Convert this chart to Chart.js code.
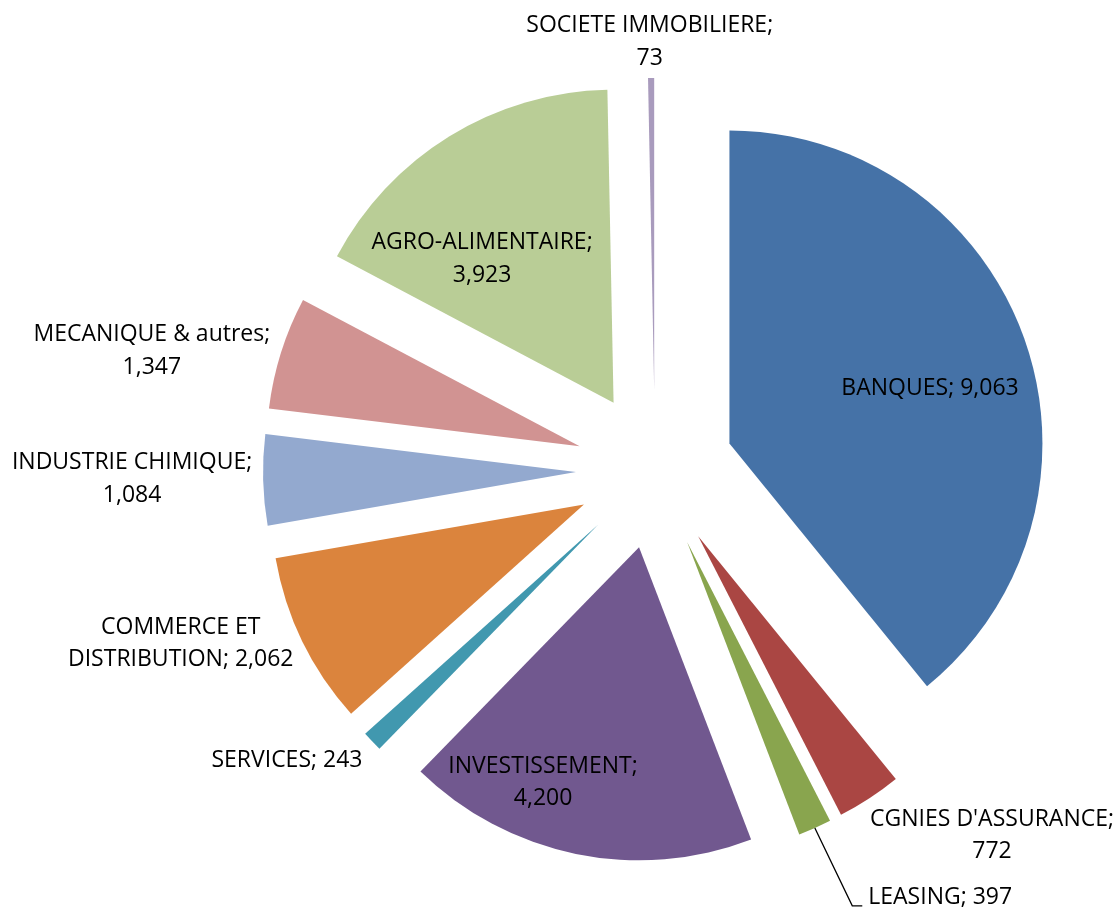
<!DOCTYPE html>
<html>
<head>
<meta charset="utf-8">
<title>Pie</title>
<script src="https://cdn.jsdelivr.net/npm/chart.js@4.4.0/dist/chart.umd.min.js"></script>
<style>
  html, body { margin: 0; padding: 0; background: #fff; }
  #wrap { width: 1119px; height: 913px; position: relative; }
</style>
</head>
<body>
<div id="wrap"><canvas id="myChart"></canvas></div>
<script>
const categories = ['BANQUES', "CGNIES D'ASSURANCE", 'LEASING', 'INVESTISSEMENT', 'SERVICES',
    'COMMERCE ET DISTRIBUTION', 'INDUSTRIE CHIMIQUE', 'MECANIQUE & autres', 'AGRO-ALIMENTAIRE', 'SOCIETE IMMOBILIERE'];
const values = [9063, 772, 397, 4200, 243, 2062, 1084, 1347, 3923, 73];
const colors = ['#4572A7', '#AA4643', '#89A54E', '#71588F', '#4198AF',
    '#DB843D', '#93A9CF', '#D19392', '#B9CD96', '#A99BBD'];

// label placement: angle (deg, clockwise from top) and distance from pie centre
const labelLayout = [
    {angle: 73.4, dist: 287, width: 300},
    {angle: 137.3, dist: 497, width: 260},
    {angle: 153.5, dist: 478, width: 300, align: 'left', leader: true},
    {angle: 199.7, dist: 332, width: 220},
    {angle: 231.7, dist: 469, width: 300},
    {angle: 249.9, dist: 505, width: 240},
    {angle: 269.0, dist: 523, width: 260},
    {angle: 283.3, dist: 517, width: 260},
    {angle: 320.7, dist: 273, width: 240},
    {angle: 359.3, dist: 428, width: 270}
];

const EXPLODE = 79;
const FONT = '23px "Open Sans"';
const LINE_H = 32.5;

function wrapText(ctx, text, maxW) {
    const words = text.split(' ');
    const lines = [];
    let cur = '';
    words.forEach(w => {
        const test = cur ? cur + ' ' + w : w;
        if (cur && ctx.measureText(test).width > maxW) {
            lines.push(cur);
            cur = w;
        } else {
            cur = test;
        }
    });
    if (cur) lines.push(cur);
    return lines;
}

const explodedPie = {
    id: 'explodedPie',
    beforeDatasetDraw(chart, args) {
        const ctx = chart.ctx;
        args.meta.data.forEach(arc => {
            const p = arc.getProps(['x', 'y', 'startAngle', 'endAngle', 'outerRadius'], true);
            const mid = (p.startAngle + p.endAngle) / 2;
            const cx = p.x + Math.cos(mid) * EXPLODE;
            const cy = p.y + Math.sin(mid) * EXPLODE;
            ctx.save();
            ctx.beginPath();
            ctx.moveTo(cx, cy);
            ctx.arc(cx, cy, p.outerRadius, p.startAngle, p.endAngle);
            ctx.closePath();
            ctx.fillStyle = arc.options.backgroundColor;
            ctx.fill();
            ctx.restore();
        });
        return false;
    },
    afterDatasetsDraw(chart) {
        const ctx = chart.ctx;
        const meta = chart.getDatasetMeta(0);
        ctx.save();
        ctx.font = FONT;
        ctx.fillStyle = '#000';
        ctx.textBaseline = 'middle';
        meta.data.forEach((arc, i) => {
            const p = arc.getProps(['x', 'y', 'startAngle', 'endAngle', 'outerRadius'], true);
            const lay = labelLayout[i];
            const a = lay.angle * Math.PI / 180;
            const px = p.x + Math.sin(a) * lay.dist;
            const py = p.y - Math.cos(a) * lay.dist;
            const text = chart.data.labels[i] + '; ' + values[i].toLocaleString('en-US');
            const lines = wrapText(ctx, text, lay.width);
            ctx.textAlign = lay.align || 'center';
            const y0 = py - (lines.length - 1) * LINE_H / 2;
            lines.forEach((ln, k) => ctx.fillText(ln, px, y0 + k * LINE_H));

            if (lay.leader) {
                const mid = (p.startAngle + p.endAngle) / 2;
                const r = EXPLODE + p.outerRadius;
                ctx.beginPath();
                ctx.moveTo(p.x + Math.cos(mid) * r, p.y + Math.sin(mid) * r);
                ctx.lineTo(px - 16, py + 8);
                ctx.lineTo(px - 6, py + 8);
                ctx.strokeStyle = '#000';
                ctx.lineWidth = 1.3;
                ctx.stroke();
            }
        });
        ctx.restore();
    }
};

const cht = document.getElementById('myChart').getContext('2d');

const myChart = new Chart(cht, {
    type: 'pie',
    data: {
        labels: categories,
        datasets: [{
            data: values,
            backgroundColor: colors,
            borderWidth: 0
        }]
    },
    options: {
        responsive: true,
        maintainAspectRatio: false,
        animation: false,
        radius: 313,
        layout: {
            padding: {left: 191, top: 27}
        },
        plugins: {
            legend: {display: false},
            tooltip: {enabled: false}
        }
    },
    plugins: [explodedPie]
});
</script>
</body>
</html>
